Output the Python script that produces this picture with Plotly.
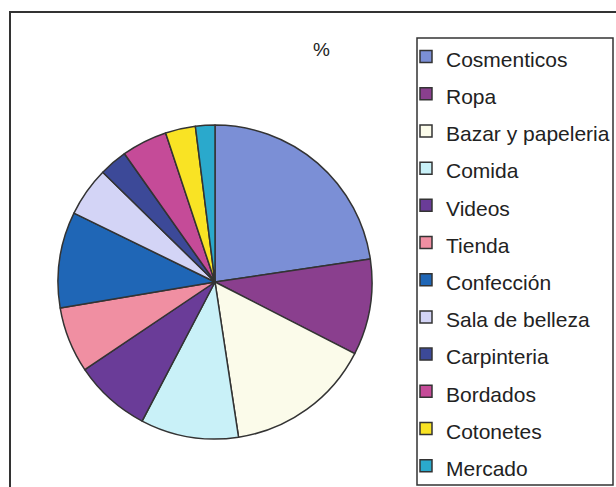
import plotly.graph_objects as go

# Share of each business type (%), clockwise from 12 o'clock
categories = ["Cosmenticos", "Ropa", "Bazar y papeleria", "Comida", "Videos", "Tienda",
              "Confección", "Sala de belleza", "Carpinteria", "Bordados", "Cotonetes", "Mercado"]
values = [22.7, 9.9, 15.1, 10.1, 7.9, 6.8, 9.9, 5.1, 2.9, 4.7, 3.1, 2.0]
colors = ["#7b8fd6", "#8a3f8e", "#fbfbea", "#c9f1f8", "#6a3c98", "#f08fa2",
          "#1f66b6", "#d3d4f6", "#3c4998", "#c54b98", "#f9e324", "#2aa9cc"]
title_text = "%"

W, H = 616, 487
FONT = "Liberation Sans, Arial, sans-serif"
TEXT_COLOR = "#222222"
LINE_COLOR = "#333333"

def px_x(x):
    return x / W

def px_y(y):
    return 1 - y / H

cx, cy, r = 215, 282, 157

# legend labels rendered smaller than the legend font so entries sit further apart
labels = [f'<span style="font-size:21px">{c}</span>' for c in categories]

fig = go.Figure(go.Pie(
    labels=labels,
    values=values,
    sort=False,
    direction="clockwise",
    rotation=0,
    textinfo="none",
    hoverinfo="label+percent",
    marker=dict(colors=colors, line=dict(color=LINE_COLOR, width=1.5)),
    domain=dict(x=[px_x(cx - r), px_x(cx + r)], y=[px_y(cy + r), px_y(cy - r)]),
))

fig.update_layout(
    width=W, height=H,
    margin=dict(l=0, r=0, t=0, b=0, autoexpand=False),
    paper_bgcolor="white",
    plot_bgcolor="white",
    font=dict(family=FONT, color=TEXT_COLOR),
    showlegend=True,
    legend=dict(
        x=px_x(406), y=px_y(33), xanchor="left", yanchor="top",
        font=dict(family=FONT, size=26.3, color=TEXT_COLOR),
        bgcolor="rgba(0,0,0,0)", borderwidth=0,
        itemclick=False, itemdoubleclick=False,
    ),
    annotations=[dict(
        text=title_text, x=px_x(321), y=px_y(50), xref="paper", yref="paper",
        xanchor="center", yanchor="middle",
        showarrow=False, font=dict(family=FONT, size=19, color=TEXT_COLOR),
    )],
    shapes=[
        # outer chart frame (runs off the right and bottom edges)
        dict(type="rect", xref="paper", yref="paper",
             x0=px_x(10), x1=px_x(640), y0=px_y(12), y1=px_y(510),
             line=dict(color=LINE_COLOR, width=2), fillcolor="rgba(0,0,0,0)"),
        # legend box
        dict(type="rect", xref="paper", yref="paper",
             x0=px_x(417), x1=px_x(613), y0=px_y(38), y1=px_y(485),
             line=dict(color=LINE_COLOR, width=1.5), fillcolor="rgba(0,0,0,0)"),
    ],
)

fig.write_html("out.html")
